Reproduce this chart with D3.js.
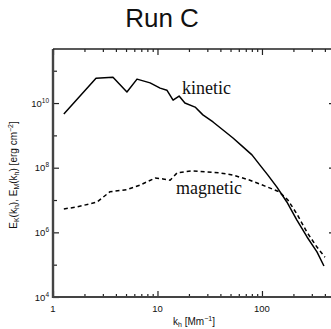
<!DOCTYPE html>
<html>
<head>
<meta charset="utf-8">
<script src="https://cdn.jsdelivr.net/npm/d3@7/dist/d3.min.js"></script>
<style>
  html, body { margin: 0; padding: 0; background: #fff; }
  svg { display: block; }
</style>
</head>
<body>
<script>
// Horizontal wavenumber k_h [Mm^-1] and spectral energy [erg cm^-2]
const kKinetic = [1.27, 2.58, 3.75, 5.1, 6.37, 8.5, 10.6, 12.3, 14.1, 16.1, 18.3, 22.9, 27.2, 34, 42.4, 52.8, 65.8, 80.2, 95.7, 114, 139, 173, 216, 270, 336, 392];
const eKinetic = [4.6e9, 5.9e10, 6.3e10, 2.2e10, 5.5e10, 4.2e10, 2.9e10, 2.5e10, 1.23e10, 1.65e10, 1.0e10, 7.5e9, 4.3e9, 2.6e9, 1.47e9, 8.3e8, 4.4e8, 2.5e8, 1.2e8, 5.9e7, 2.5e7, 8.7e6, 2.4e6, 7.2e5, 2.5e5, 9.1e4];

const kMagnetic = [1.27, 1.70, 2.64, 3.51, 5.1, 6.8, 9.5, 11.3, 13.2, 15.4, 21.4, 29.8, 39.6, 52.8, 76.7, 107, 146, 177, 216, 270, 336, 401];
const eMagnetic = [5.3e6, 6.1e6, 8.7e6, 1.8e7, 2.1e7, 2.9e7, 4.8e7, 4.5e7, 4.1e7, 6.9e7, 8.0e7, 7.4e7, 6.9e7, 5.9e7, 4.1e7, 2.7e7, 1.8e7, 1.0e7, 3.7e6, 1.0e6, 3.5e5, 1.7e5];

const xMajor = [1, 10, 100];
const xTickLabels = ["1", "10", "100"];
const yDecades = [1e4, 1e5, 1e6, 1e7, 1e8, 1e9, 1e10, 1e11];
const yLabelled = [4, 6, 8, 10];

const W = 331, H = 329;
const svg = d3.select("body").append("svg").attr("width", W).attr("height", H);

const x = d3.scaleLog().domain([1, 500]).range([53, 335]);
const y = d3.scaleLog().domain([1e4, 4.7e11]).range([297, 49]);

// minor ticks at 2..9 of each decade
const xMinor = [];
[1, 10, 100].forEach(d => { for (let m = 2; m <= 9; m++) { const v = d * m; if (v <= 500) xMinor.push(v); } });

const tickSans = "'Liberation Sans', Arial, Helvetica, sans-serif";

// Frame
const g = svg.append("g");
function tickAxis(axis, transform, values, size) {
  const a = g.append("g").attr("transform", transform)
    .call(axis.tickValues(values).tickSize(size).tickFormat(""));
  a.select(".domain").remove();
  a.selectAll(".tick line").attr("stroke", "#222").attr("stroke-width", 1.2);
  return a;
}
// bottom & top: inward ticks
tickAxis(d3.axisBottom(x), `translate(0,${y.range()[0]})`, xMajor, -6);
tickAxis(d3.axisBottom(x), `translate(0,${y.range()[0]})`, xMinor, -3);
tickAxis(d3.axisTop(x), `translate(0,${y.range()[1]})`, xMajor, -6);
tickAxis(d3.axisTop(x), `translate(0,${y.range()[1]})`, xMinor, -3);
// left & right
const yLong = yDecades.filter(v => yLabelled.includes(Math.round(Math.log10(v))));
const yShort = yDecades.filter(v => !yLabelled.includes(Math.round(Math.log10(v))));
tickAxis(d3.axisLeft(y), `translate(${x.range()[0]},0)`, yLong, -6);
tickAxis(d3.axisLeft(y), `translate(${x.range()[0]},0)`, yShort, -4);
tickAxis(d3.axisRight(y), `translate(${x.range()[1]},0)`, yLong, -6);
tickAxis(d3.axisRight(y), `translate(${x.range()[1]},0)`, yShort, -4);

// Axis lines
const [x0, x1] = x.range(), [y0, y1] = y.range();
g.append("line").attr("x1", x0).attr("x2", x0).attr("y1", y1).attr("y2", y0 + 1).attr("stroke", "#444").attr("stroke-width", 2.4);
g.append("line").attr("x1", x0 - 1).attr("x2", x1).attr("y1", y0).attr("y2", y0).attr("stroke", "#444").attr("stroke-width", 2.2);
g.append("line").attr("x1", x0).attr("x2", x1).attr("y1", y1).attr("y2", y1).attr("stroke", "#222").attr("stroke-width", 1.6);
g.append("line").attr("x1", x1).attr("x2", x1).attr("y1", y1).attr("y2", y0).attr("stroke", "#222").attr("stroke-width", 1.6);

// Tick labels
svg.append("g").selectAll("text").data(xMajor).join("text")
  .attr("x", d => x(d)).attr("y", 312)
  .attr("text-anchor", "middle")
  .attr("font-family", tickSans).attr("font-size", 9.5).attr("fill", "#111")
  .text((d, i) => xTickLabels[i]);

const yl = svg.append("g").selectAll("text").data(yLabelled).join("text")
  .attr("x", 49).attr("y", d => y(Math.pow(10, d)) + 3.5)
  .attr("text-anchor", "end")
  .attr("font-family", tickSans).attr("font-size", 9.5).attr("fill", "#111");
yl.append("tspan").text("10");
yl.append("tspan").attr("dy", -4).attr("font-size", 6.5).text(d => d);

// Axis titles
const xt = svg.append("text").attr("x", 194).attr("y", 325)
  .attr("text-anchor", "middle").attr("font-family", tickSans).attr("font-size", 10).attr("fill", "#111");
xt.append("tspan").text("k");
xt.append("tspan").attr("dy", 2).attr("font-size", 7).text("h");
xt.append("tspan").attr("dy", -2).text(" [Mm");
xt.append("tspan").attr("dy", -4).attr("font-size", 7).text("−1");
xt.append("tspan").attr("dy", 4).text("]");

const yt = svg.append("text").attr("transform", "translate(17,175) rotate(-90)")
  .attr("text-anchor", "middle").attr("font-family", tickSans).attr("font-size", 10).attr("fill", "#111");
yt.append("tspan").text("E");
yt.append("tspan").attr("dy", 2).attr("font-size", 7).text("K");
yt.append("tspan").attr("dy", -2).text("(k");
yt.append("tspan").attr("dy", 2).attr("font-size", 7).text("h");
yt.append("tspan").attr("dy", -2).text("),  E");
yt.append("tspan").attr("dy", 2).attr("font-size", 7).text("M");
yt.append("tspan").attr("dy", -2).text("(k");
yt.append("tspan").attr("dy", 2).attr("font-size", 7).text("h");
yt.append("tspan").attr("dy", -2).text(")   [erg cm");
yt.append("tspan").attr("dy", -4).attr("font-size", 7).text("−2");
yt.append("tspan").attr("dy", 4).text("]");

// Title
svg.append("text").attr("x", 162).attr("y", 27).attr("text-anchor", "middle")
  .attr("font-family", tickSans).attr("font-size", 26).attr("fill", "#111").text("Run C");

// Spectra
const line = d3.line().x(d => x(d[0])).y(d => y(d[1]));
svg.append("path").datum(d3.zip(kKinetic, eKinetic))
  .attr("d", line).attr("fill", "none").attr("stroke", "#000").attr("stroke-width", 1.5)
  .attr("stroke-linejoin", "round");
svg.append("path").datum(d3.zip(kMagnetic, eMagnetic))
  .attr("d", line).attr("fill", "none").attr("stroke", "#000").attr("stroke-width", 1.5)
  .attr("stroke-dasharray", "4,3");

// Curve labels
const serif = "'Liberation Serif', 'Times New Roman', serif";
svg.append("text").attr("x", 182).attr("y", 94).attr("font-family", serif).attr("font-size", 18).attr("fill", "#111").text("kinetic");
svg.append("text").attr("x", 176).attr("y", 194).attr("font-family", serif).attr("font-size", 18).attr("fill", "#111").text("magnetic");
</script>
</body>
</html>
